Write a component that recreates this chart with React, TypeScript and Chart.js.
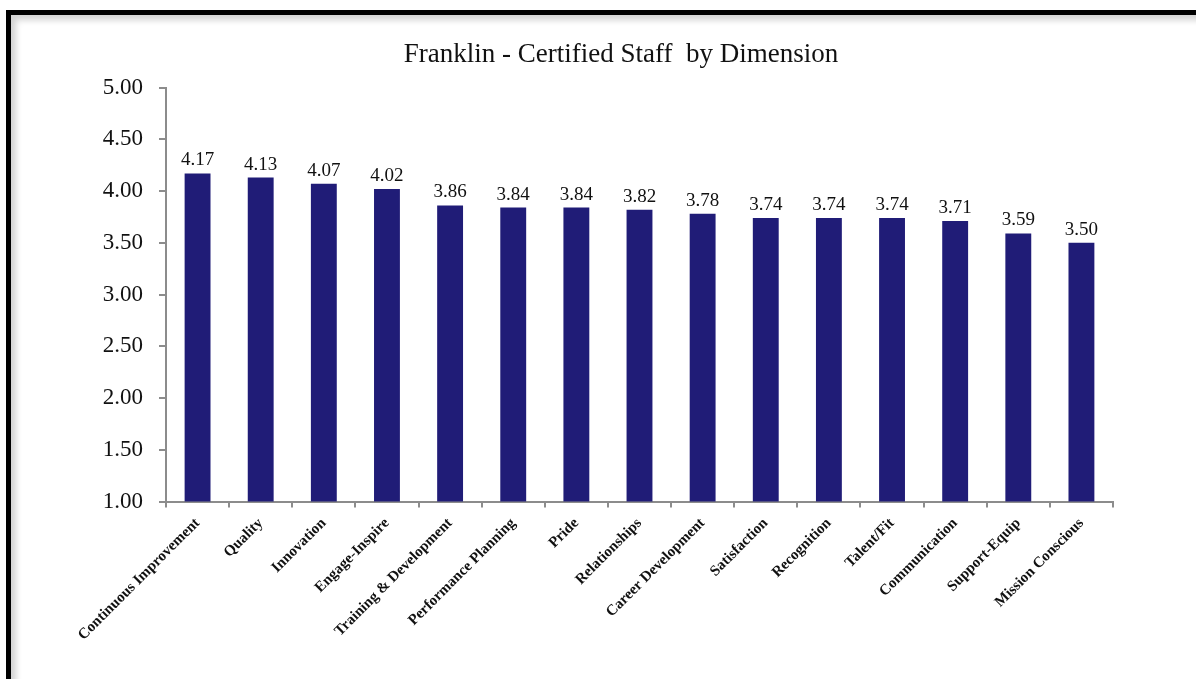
import React, { useEffect, useRef } from "react";
import { Chart, registerables } from "chart.js";

Chart.register(...registerables);

const TITLE = "Franklin - Certified Staff  by Dimension";
const categories = [
  "Continuous Improvement",
  "Quality",
  "Innovation",
  "Engage-Inspire",
  "Training & Development",
  "Performance Planning",
  "Pride",
  "Relationships",
  "Career Development",
  "Satisfaction",
  "Recognition",
  "Talent/Fit",
  "Communication",
  "Support-Equip",
  "Mission Conscious",
];
const scores = [4.17, 4.13, 4.07, 4.02, 3.86, 3.84, 3.84, 3.82, 3.78, 3.74, 3.74, 3.74, 3.71, 3.59, 3.5];
const yMin = 1;
const yMax = 5;
const yStep = 0.5;

const FONT = "'Liberation Serif', 'DejaVu Serif', serif";

const valueLabels = {
  id: "valueLabels",
  afterDatasetsDraw(chart: any) {
    const ctx = chart.ctx;
    const meta = chart.getDatasetMeta(0);
    ctx.save();
    ctx.font = `19px ${FONT}`;
    ctx.fillStyle = "#111";
    ctx.textAlign = "center";
    ctx.textBaseline = "alphabetic";
    meta.data.forEach((bar: any, i: number) => {
      ctx.fillText(scores[i].toFixed(2), bar.x, bar.y - 8);
    });
    ctx.restore();
  },
};

const titlePlugin = {
  id: "customTitle",
  afterDraw(chart: any) {
    const ctx = chart.ctx;
    ctx.save();
    ctx.font = `27px ${FONT}`;
    ctx.fillStyle = "#111";
    ctx.textAlign = "center";
    ctx.textBaseline = "middle";
    ctx.fillText(TITLE, 621, 55);
    ctx.restore();
  },
};

export default function App() {
  const ref = useRef<HTMLCanvasElement>(null);
  useEffect(() => {
    if (!ref.current) return;
    const chart = new Chart(ref.current, {
      type: "bar",
      data: {
        labels: categories,
        datasets: [
          {
            data: scores,
            backgroundColor: "#201c77",
            borderWidth: 0,
            barPercentage: 0.41,
            categoryPercentage: 1,
          },
        ],
      },
      options: {
        responsive: false,
        animation: false,
        layout: { padding: { left: 80, right: 83, top: 87.5, bottom: 0 } },
        plugins: {
          legend: { display: false },
          tooltip: { enabled: false },
          title: { display: false },
        },
        scales: {
          y: {
            min: yMin,
            max: yMax,
            afterFit: (s: any) => {
              s.width = 86;
            },
            ticks: {
              stepSize: yStep,
              color: "#111",
              padding: 16,
              font: { family: FONT, size: 23 },
              callback: (v: any) => Number(v).toFixed(2),
            },
            grid: { drawOnChartArea: false, drawTicks: true, tickLength: 7, color: "#8c8c8c", lineWidth: 2 },
            border: { display: true, color: "#8c8c8c", width: 2 },
          },
          x: {
            afterFit: (s: any) => {
              s.height = 177.5;
            },
            ticks: {
              minRotation: 45,
              maxRotation: 45,
              autoSkip: false,
              color: "#111",
              padding: 7,
              font: { family: FONT, size: 15, weight: "bold" },
            },
            grid: { drawOnChartArea: false, drawTicks: true, tickLength: 6, color: "#8c8c8c", lineWidth: 2, offset: true },
            border: { display: true, color: "#8c8c8c", width: 2 },
          },
        },
      },
      plugins: [valueLabels, titlePlugin],
    });
    return () => chart.destroy();
  }, []);

  return (
    <div style={{ position: "fixed", left: 0, top: 0, width: 1196, height: 679, overflow: "hidden", background: "#fff" }}>
      <div
        style={{
          position: "absolute",
          left: 6,
          top: 10,
          width: 1400,
          height: 900,
          borderLeft: "5px solid #000",
          borderTop: "5px solid #000",
          boxShadow: "inset 5px 5px 6px rgba(0,0,0,0.18)",
          boxSizing: "border-box",
        }}
      />
      <canvas ref={ref} width={1196} height={679} style={{ position: "absolute", left: 0, top: 0, width: 1196, height: 679 }} />
    </div>
  );
}
